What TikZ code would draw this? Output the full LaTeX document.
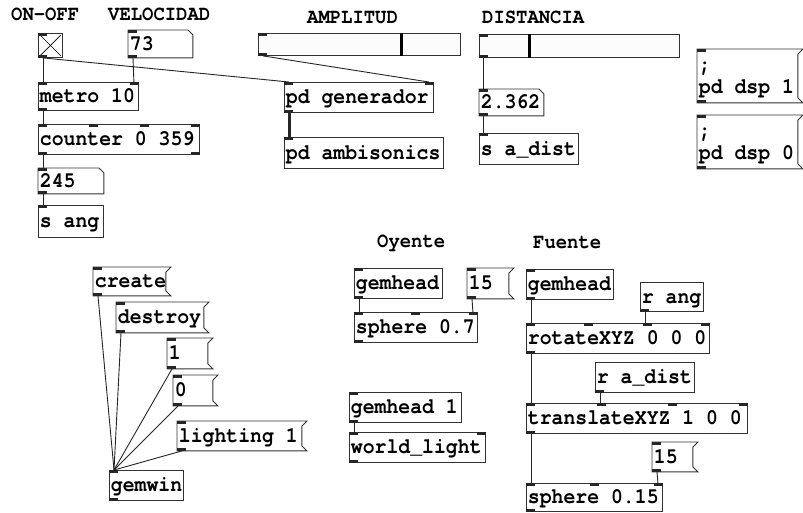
\documentclass[tikz,border=0pt]{standalone}
\usepackage{fontspec}
\newfontfamily\pdtxt[FakeStretch=0.9]{TeX Gyre Cursor}
\usetikzlibrary{calc}
\newcommand\pdinN[2]{\fill[iofill] ($([xshift=4.5pt]#1.north west)!#2!([xshift=-4.5pt]#1.north east)$) ++(-4.5,0) rectangle ++(9,3);}
\newcommand\pdoutN[2]{\fill[iofill] ($([xshift=4.5pt]#1.south west)!#2!([xshift=-4.5pt]#1.south east)$) ++(-4.5,0) rectangle ++(9,-3);}
\newcommand\pdfontset[1]{\pdtxt\bfseries\fontsize{#1}{22}\selectfont}
\newcommand\pdlab[2]{\makebox[#1pt][l]{\spaceskip=\fontcharwd\font`0\relax\xspaceskip=\spaceskip #2}}
\tikzset{
  obj/.style={draw=black!80, line width=0.9pt, rectangle, anchor=north west, inner xsep=1.5pt, inner ysep=0pt,
    font=\pdfontset{22}, text height=12.5pt, text depth=0pt},
  nobox/.style={obj, draw=none},
  boxline/.style={draw=black!80, line width=0.9pt, line join=miter},
  lbl/.style={anchor=base west, inner sep=0pt, font=\pdfontset{21}},
  wire/.style={line width=0.9pt, draw=black!85},
  sig/.style={line width=3pt, draw=black!85},
  iofill/.style={fill=black!85},
  knob/.style={line width=3pt, draw=black},
  sliderbox/.style={draw=black!80, line width=0.9pt, fill=black!1, anchor=north west, inner sep=0pt}
}
\begin{document}
\begin{tikzpicture}[x=1pt,y=-1pt]
\useasboundingbox (0,0) rectangle (803,512);
\fill[white] (0,0) rectangle (803,512);

% labels
\node[lbl] (lonoff) at (11,20) {ON-OFF};
\node[lbl] (lvel) at (108,20) {VELOCIDAD};
\node[lbl] (lamp) at (307,23) {AMPLITUD};
\node[lbl] (ldist) at (482,23) {DISTANCIA};
\node[lbl] (loy) at (377,247) {Oyente};
\node[lbl] (lfu) at (533,248) {Fuente};

% toggle
\node[draw=black!80, line width=0.9pt, anchor=north west, minimum size=24pt, inner sep=0pt] (tog) at (38,33) {};
\draw[line width=0.7pt] ([shift={(2pt,-2pt)}]tog.north west) -- ([shift={(-2pt,2pt)}]tog.south east);
\draw[line width=0.7pt] ([shift={(-2pt,-2pt)}]tog.north east) -- ([shift={(2pt,2pt)}]tog.south west);

% sliders
\node[sliderbox, minimum width=202pt, minimum height=22pt] (sldA) at (258,33) {};
\draw[knob] ([xshift=143pt]sldA.north west) -- ([xshift=143pt]sldA.south west);
\node[sliderbox, minimum width=200pt, minimum height=23pt] (sldD) at (479,34) {};
\draw[knob] ([xshift=50pt]sldD.north west) -- ([xshift=50pt]sldD.south west);

% objects
\node[nobox, minimum height=27pt] (num73) at (128,30) {\pdlab{61}{73}};
\node[obj, minimum height=28pt] (metro) at (38,82) {\pdlab{97}{metro 10}};
\node[obj, minimum height=30pt] (counter) at (38,124) {\pdlab{158}{counter 0 359}};
\node[nobox, minimum height=25pt] (num245) at (38,168) {\pdlab{62}{245}};
\node[obj, minimum height=32pt] (sang) at (38,205) {\pdlab{62}{s ang}};
\node[obj, minimum height=30pt] (pdgen) at (284,82) {\pdlab{146}{pd generador}};
\node[obj, minimum height=31pt] (pdamb) at (284,137) {\pdlab{156}{pd ambisonics}};
\node[nobox, minimum height=26pt] (num2362) at (479,89) {\pdlab{61}{2.362}};
\node[obj, minimum height=31pt] (sadist) at (479,133) {\pdlab{96}{s a\_dist}};
\node[nobox, align=left, minimum height=53pt, text height=34.5pt, text depth=0pt] (dsp1) at (697,49) {\pdlab{97}{;}\\\pdlab{97}{pd dsp 1}};
\node[nobox, align=left, minimum height=53pt, text height=34.5pt, text depth=0pt] (dsp0) at (697,115) {\pdlab{97}{;}\\\pdlab{97}{pd dsp 0}};

\node[nobox, minimum height=28pt] (create) at (93,267) {\pdlab{69}{create}};
\node[nobox, minimum height=30pt] (destroy) at (116,302) {\pdlab{84}{destroy}};
\node[nobox, minimum height=30pt] (m1) at (167,338) {\pdlab{37}{1}};
\node[nobox, minimum height=30pt] (m0) at (173,375) {\pdlab{36}{0}};
\node[nobox, minimum height=29pt] (lighting) at (177,421) {\pdlab{121}{lighting 1}};
\node[obj, minimum height=30pt] (gemwin) at (109,470) {\pdlab{71}{gemwin}};

\node[obj, minimum height=30pt] (gemhO) at (354,268) {\pdlab{85}{gemhead}};
\node[nobox, minimum height=30pt] (m15a) at (467,268) {\pdlab{38}{15}};
\node[obj, minimum height=30pt] (sph07) at (354,312) {\pdlab{120}{sphere 0.7}};
\node[obj, minimum height=30pt] (gemh1) at (349,392) {\pdlab{109}{gemhead 1}};
\node[obj, minimum height=30pt] (wlight) at (349,432) {\pdlab{133}{world\_light}};

\node[obj, minimum height=30pt] (gemhF) at (526,269) {\pdlab{84}{gemhead}};
\node[obj, minimum height=29pt] (rang) at (640,282) {\pdlab{60}{r ang}};
\node[obj, minimum height=30pt] (rot) at (526,323) {\pdlab{180}{rotateXYZ 0 0 0}};
\node[obj, minimum height=30pt] (radist) at (595,362) {\pdlab{96}{r a\_dist}};
\node[obj, minimum height=30pt] (trans) at (526,403) {\pdlab{218}{translateXYZ 1 0 0}};
\node[nobox, minimum height=29pt] (m15b) at (652,442) {\pdlab{37}{15}};
\node[obj, minimum height=28pt] (sph015) at (526,483) {\pdlab{133}{sphere 0.15}};

% number box outlines
\foreach \n in {num73,num245,num2362}
  \draw[boxline] (\n.north west) -- ([xshift=-5pt]\n.north east) -- ([yshift=-5pt]\n.north east) -- (\n.south east) -- (\n.south west) -- cycle;
% message box outlines
\foreach \n in {dsp1,dsp0,create,destroy,m1,m0,lighting,m15a,m15b}
  \draw[boxline] ([xshift=5pt]\n.north east) -- (\n.north west) -- (\n.south west) -- ([xshift=5pt]\n.south east) -- ([yshift=5pt]\n.south east) -- ([yshift=-5pt]\n.north east) -- cycle;

% inlets / outlets
\foreach \n in {tog,num73,metro,counter,num245,sang,sldA,pdgen,pdamb,sldD,num2362,sadist,dsp1,dsp0,create,destroy,m1,m0,lighting,gemwin,gemhO,m15a,sph07,gemh1,wlight,gemhF,rot,trans,m15b,sph015}
  {\pdinN{\n}{0}}
\foreach \n in {metro,counter,pdgen,sph07,wlight,rot,trans,sph015}
  {\pdinN{\n}{1}}
\foreach \n in {counter,rot,trans}
  {\pdinN{\n}{0.3333}\pdinN{\n}{0.6667}}
\foreach \n in {sph07,sph015}
  {\pdinN{\n}{0.5}}
\foreach \n in {tog,num73,metro,counter,num245,sldA,pdgen,sldD,num2362,dsp1,dsp0,create,destroy,m1,m0,lighting,gemwin,gemhO,m15a,sph07,gemh1,wlight,gemhF,rang,rot,radist,trans,m15b,sph015}
  {\pdoutN{\n}{0}}
\pdoutN{counter}{1}

% connections
\draw[wire] ([xshift=5pt]tog.south west) -- ([xshift=5pt]metro.north west);
\draw[wire] ([xshift=5pt]num73.south west) -- ([xshift=-5pt]metro.north east);
\draw[wire] ([xshift=5pt]tog.south west) -- ([xshift=5pt]pdgen.north west);
\draw[wire] ([xshift=5pt]sldA.south west) -- ([xshift=-5pt]pdgen.north east);
\draw[wire] ([xshift=5pt]metro.south west) -- ([xshift=5pt]counter.north west);
\draw[wire] ([xshift=5pt]counter.south west) -- ([xshift=5pt]num245.north west);
\draw[wire] ([xshift=5pt]num245.south west) -- ([xshift=5pt]sang.north west);
\draw[sig] ([xshift=5pt]pdgen.south west) -- ([xshift=5pt]pdamb.north west);
\draw[wire] ([xshift=4pt]sldD.south west) -- ([xshift=4pt]num2362.north west);
\draw[wire] ([xshift=4pt]num2362.south west) -- ([xshift=4pt]sadist.north west);

\foreach \n in {create,destroy,m1,m0,lighting}
  \draw[wire] ([xshift=5pt]\n.south west) -- ([xshift=5pt]gemwin.north west);

\draw[wire] ([xshift=5pt]gemhO.south west) -- ([xshift=5pt]sph07.north west);
\draw[wire] ([xshift=5pt]m15a.south west) -- ([xshift=-5pt]sph07.north east);
\draw[wire] ([xshift=5pt]gemh1.south west) -- ([xshift=5pt]wlight.north west);

\draw[wire] ([xshift=5pt]gemhF.south west) -- ([xshift=5pt]rot.north west);
\draw[wire] ([xshift=5pt]rang.south west) coordinate (ra) -- (ra |- rot.north);
\draw[wire] ([xshift=5pt]rot.south west) -- ([xshift=5pt]trans.north west);
\draw[wire] ([xshift=5pt]radist.south west) coordinate (rd) -- (rd |- trans.north);
\draw[wire] ([xshift=5pt]trans.south west) -- ([xshift=5pt]sph015.north west);
\draw[wire] ([xshift=5pt]m15b.south west) -- ([xshift=-5pt]sph015.north east);
\end{tikzpicture}
\end{document}
